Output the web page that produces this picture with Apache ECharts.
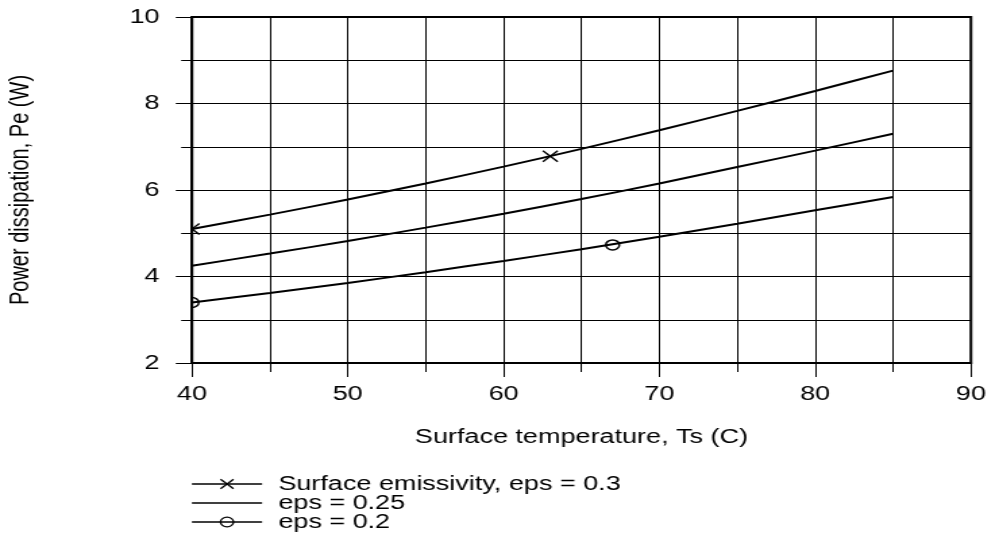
<!DOCTYPE html>
<html>
<head>
<meta charset="utf-8">
<script src="https://cdn.jsdelivr.net/npm/echarts@6/dist/echarts.min.js"></script>
<style>
html,body{margin:0;padding:0;background:#fff;overflow:hidden;}
#wrap{width:987px;height:537px;overflow:hidden;}
#chart{width:731px;height:537px;transform:scaleX(1.35);transform-origin:0 0;}
</style>
</head>
<body>
<div id="wrap"><div id="chart"></div></div>
<script>
// Surface temperature (C)
const temps = [40, 45, 50, 55, 60, 65, 70, 75, 80, 85];
// Power dissipation (W)
const eps030 = [5.10, 5.43, 5.78, 6.15, 6.54, 6.95, 7.38, 7.83, 8.29, 8.76];
const eps025 = [4.25, 4.53, 4.82, 5.13, 5.45, 5.79, 6.15, 6.53, 6.91, 7.30];
const eps020 = [3.40, 3.62, 3.85, 4.10, 4.36, 4.63, 4.92, 5.22, 5.53, 5.84];
// marker positions
const markX030 = [40, 63];
const markY030 = [5.10, 6.78];
const markX020 = [40, 67];
const markY020 = [3.40, 4.73];

const names = ['Surface emissivity, eps = 0.3', 'eps = 0.25', 'eps = 0.2'];
const xTicks = [40, 50, 60, 70, 80, 90];
const yTicks = [2, 4, 6, 8, 10];

const pairs = (xs, ys) => xs.map((x, i) => [x, ys[i]]);
const FONT = "'Liberation Sans', Arial, Helvetica, sans-serif";

const chart = echarts.init(document.getElementById('chart'), null, {renderer: 'canvas'});

function crossItem(params, api) {
  const p = api.coord([api.value(0), api.value(1)]);
  const r = 5.5;
  return {type: 'group', children: [
    {type: 'line', shape: {x1: p[0]-r, y1: p[1]-r, x2: p[0]+r, y2: p[1]+r}, style: {stroke: '#000', lineWidth: 1.4}},
    {type: 'line', shape: {x1: p[0]-r, y1: p[1]+r, x2: p[0]+r, y2: p[1]-r}, style: {stroke: '#000', lineWidth: 1.4}}
  ]};
}
function circleItem(params, api) {
  const p = api.coord([api.value(0), api.value(1)]);
  return {type: 'circle', shape: {cx: p[0], cy: p[1], r: 5}, style: {fill: 'none', stroke: '#000', lineWidth: 1.5}};
}

const lineBase = {
  type: 'line', showSymbol: false, smooth: 0.2, silent: true,
  lineStyle: {color: '#000', width: 2},
  itemStyle: {color: '#000', borderColor: '#000', borderWidth: 1},
  z: 3
};

chart.setOption({
  animation: false,
  textStyle: {fontFamily: FONT},
  grid: {left: 142.2, right: 11.8, top: 17, bottom: 174, show: true, borderColor: '#000', borderWidth: 2,
    backgroundColor: 'transparent', containLabel: false, outerBoundsMode: 'none'},
  xAxis: {
    type: 'value', min: 40, max: 90, interval: 10,
    name: 'Surface temperature, Ts (C)', nameLocation: 'middle', nameGap: 64,
    nameTextStyle: {fontSize: 20, color: '#000', fontFamily: FONT},
    axisLine: {show: true, lineStyle: {color: '#000', width: 2}},
    axisTick: {show: true, length: 14, lineStyle: {color: '#000', width: 1}},
    minorTick: {show: true, splitNumber: 2, length: 9, lineStyle: {color: '#000', width: 1}},
    splitLine: {show: true, lineStyle: {color: '#000', width: 1}},
    minorSplitLine: {show: true, lineStyle: {color: '#000', width: 1}},
    axisLabel: {fontSize: 20, color: '#000', margin: 21, fontFamily: FONT,
      formatter: v => xTicks.indexOf(v) >= 0 ? String(v) : ''}
  },
  yAxis: {
    type: 'value', min: 2, max: 10, interval: 2,
    name: 'Power dissipation, Pe (W)', nameLocation: 'middle', nameGap: 117, nameRotate: 90,
    nameTextStyle: {fontSize: 20, color: '#000', fontFamily: FONT},
    axisLine: {show: true, lineStyle: {color: '#000', width: 2}},
    axisTick: {show: true, length: 12, lineStyle: {color: '#000', width: 1}},
    minorTick: {show: true, splitNumber: 2, length: 8, lineStyle: {color: '#000', width: 1}},
    splitLine: {show: true, lineStyle: {color: '#000', width: 1}},
    minorSplitLine: {show: true, lineStyle: {color: '#000', width: 1}},
    axisLabel: {fontSize: 20, color: '#000', margin: 24, fontFamily: FONT,
      formatter: v => yTicks.indexOf(v) >= 0 ? String(v) : ''}
  },
  legend: {
    orient: 'vertical', left: 141.5, top: 474, height: 62, padding: 0,
    itemWidth: 52, itemHeight: 12, itemGap: -1,
    selectedMode: false,
    textStyle: {fontSize: 20, lineHeight: 16, color: '#000', fontFamily: FONT, padding: [0, 0, 0, 7]},
    itemStyle: {color: 'transparent', borderColor: '#000', borderWidth: 1.3},
    lineStyle: {color: '#000', width: 1.3},
    data: [
      {name: names[0]},
      {name: names[1], itemStyle: {borderColor: 'transparent', color: 'transparent'}},
      {name: names[2]}
    ]
  },
  series: [
    Object.assign({}, lineBase, {name: names[0], data: pairs(temps, eps030), symbol: 'path://M0,0L10,10M10,0L0,10'}),
    Object.assign({}, lineBase, {name: names[1], data: pairs(temps, eps025), symbol: 'circle'}),
    Object.assign({}, lineBase, {name: names[2], data: pairs(temps, eps020), symbol: 'circle'}),
    {type: 'custom', clip: true, silent: true, z: 4, renderItem: crossItem, data: pairs(markX030, markY030)},
    {type: 'custom', clip: true, silent: true, z: 4, renderItem: circleItem, data: pairs(markX020, markY020)}
  ]
});
</script>
</body>
</html>
